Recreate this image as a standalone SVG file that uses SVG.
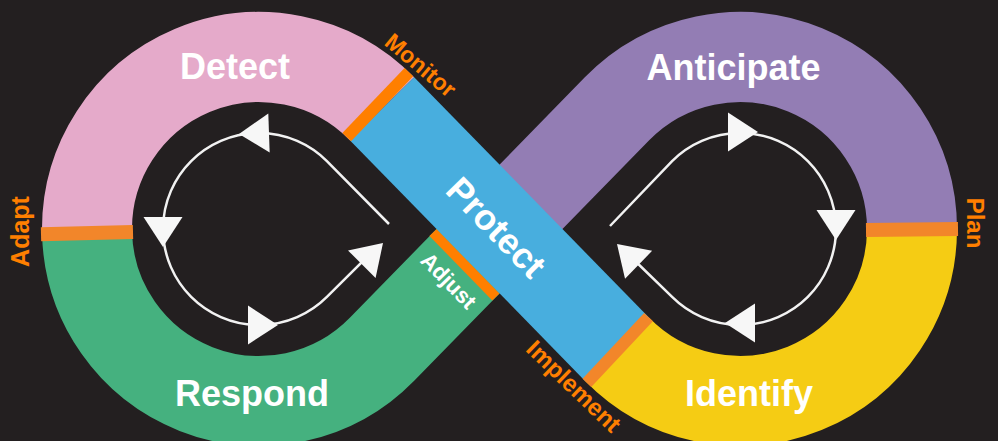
<svg xmlns="http://www.w3.org/2000/svg" xmlns:xlink="http://www.w3.org/1999/xlink" width="998" height="441" viewBox="0 0 998 441">
  <defs>
    <style>
      .band { fill: none; stroke-width: 90; stroke-linecap: butt; stroke-linejoin: round; }
      .big { font-family: "Liberation Sans", Arial, sans-serif; font-weight: bold; font-size: 36px; fill: #FFFFFF; text-anchor: middle; }
      .lbl { font-family: "Liberation Sans", Arial, sans-serif; font-weight: bold; font-size: 25px; fill: #FF7F00; text-anchor: middle; }
      .strip1 { stroke: #FF7F00; stroke-linecap: butt; }
      .strip2 { stroke: #F2862A; stroke-linecap: butt; }
      .loop { fill: none; stroke: #F2F2F2; stroke-width: 2.5; }
      .head { fill: #F7F7F7; }
    </style>
    <polygon id="ah" points="0,0 -30,-19.5 -30,19.5"/>
  </defs>

  <rect x="0" y="0" width="998" height="441" fill="#231F20"/>

  <g id="detect">
    <path class="band" stroke="#E5AACA" d="M 87.05 233.2 A 172 172 0 0 1 382 108.8"/>
    <text class="big" x="235" y="79">Detect</text>
  </g>

  <g id="anticipate">
    <path class="band" stroke="#937DB4" d="M 499.5 229 L 617 108.8 A 172 172 0 0 1 912 229.5"/>
    <text class="big" x="733.5" y="80">Anticipate</text>
  </g>

  <g id="respond">
    <path class="band" stroke="#45B17F" d="M 87.05 233.2 A 172 172 0 0 0 382 349.2 L 499.5 229"/>
    <text class="big" x="252" y="406">Respond</text>
  </g>

  <g id="identify">
    <path class="band" stroke="#F5CC14" d="M 912 229.5 A 172 172 0 0 1 617 349.2"/>
    <text class="big" x="749" y="406">Identify</text>
  </g>

  <g id="adjust">
    <polygon fill="#FF7F00" points="429.4,236 436.6,229 499.5,293.4 492.3,300.4"/>
    <text class="lbl" style="fill:#FFFFFF;font-size:22px" transform="translate(447.5,281.7) rotate(45.7)" y="6">Adjust</text>
  </g>

  <g id="protect">
    <line class="band" stroke="#48AEDE" x1="382" y1="108.8" x2="617" y2="349.2"/>
    <text class="big" transform="translate(496.5,227) rotate(45.7)" y="12.9">Protect</text>
  </g>

  <g id="adapt">
    <line class="strip2" stroke-width="14" x1="133" y1="232.1" x2="41" y2="234.3"/>
    <text class="lbl" transform="translate(28.5,231.5) rotate(-90)">Adapt</text>
  </g>

  <g id="plan">
    <line class="strip2" stroke-width="14" x1="866" y1="230" x2="958" y2="229"/>
    <text class="lbl" style="font-size:24px" transform="translate(967,223) rotate(90)">Plan</text>
  </g>

  <g id="monitor">
    <line class="strip1" stroke-width="12" x1="346.7" y1="137.2" x2="408.9" y2="72.1"/>
    <text class="lbl" style="font-size:23px" transform="translate(420.8,65) rotate(40)" y="8.3">Monitor</text>
  </g>

  <g id="implement">
    <line class="strip2" stroke-width="12" x1="648.5" y1="317.1" x2="586.9" y2="382.8"/>
    <text class="lbl" style="font-size:24px" transform="translate(574,386) rotate(44)" y="8.6">Implement</text>
  </g>

  <g id="connectors">
    <path class="loop" d="M 389 224 L 326.9 161.1 A 96 96 0 1 0 326.9 296.9 L 370 254"/>
    <path class="loop" d="M 610 226 L 672.1 161.1 A 96 96 0 1 1 672.1 296.9 L 630 256"/>
    <use xlink:href="#ah" class="head" transform="translate(239,134) rotate(178)"/>
    <use xlink:href="#ah" class="head" transform="translate(163,247) rotate(90)"/>
    <use xlink:href="#ah" class="head" transform="translate(278,325) rotate(0)"/>
    <use xlink:href="#ah" class="head" transform="translate(383,243) rotate(-45)"/>
    <use xlink:href="#ah" class="head" transform="translate(758,132) rotate(0)"/>
    <use xlink:href="#ah" class="head" transform="translate(836,240) rotate(90)"/>
    <use xlink:href="#ah" class="head" transform="translate(725,323) rotate(180)"/>
    <use xlink:href="#ah" class="head" transform="translate(617,244) rotate(-136)"/>
  </g>
</svg>
